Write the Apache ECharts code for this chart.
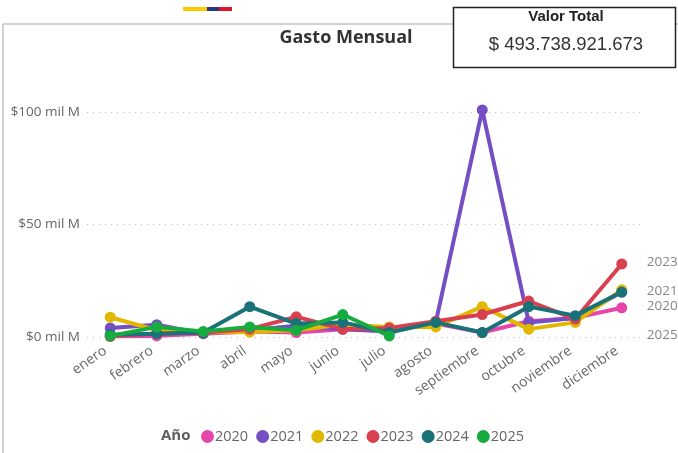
<!DOCTYPE html>
<html>
<head>
<meta charset="utf-8">
<script src="https://cdn.jsdelivr.net/npm/echarts@6/dist/echarts.min.js"></script>
<style>
html,body{margin:0;padding:0;background:#fff;}
#main{width:678px;height:453px;}
</style>
</head>
<body>
<div id="main"></div>
<script>
// valores en miles de millones
var meses = ['enero','febrero','marzo','abril','mayo','junio','julio','agosto','septiembre','octubre','noviembre','diciembre'];
var anios = ['2020','2021','2022','2023','2024','2025'];
var colores = ['#E645AB','#744EC2','#E1B800','#D9404F','#197278','#16AC3F'];

var v2020 = [0.3,0.5,1.5,2.5,2,3.5,3,6,2,7,8.5,13];
var v2021 = [4,5.5,1.5,3,5,3.5,2.5,6.5,101,6.5,8.5,20];
var v2022 = [8.8,3,2,2.2,3,5.5,4.5,4.5,13.5,3.5,6.5,21];
var v2023 = [0.3,1.5,2,3.5,9,3.5,4,7,10,16,8,32.5];
var v2024 = [1,1.5,2,13.5,6,6.5,2,6.5,2,13.5,9.5,20];
var v2025 = [0.5,4.5,2.5,4.5,3,10,0.5,null,null,null,null,null];
var valores = [v2020,v2021,v2022,v2023,v2024,v2025];

// etiquetas del lado derecho
var etiquetasFin = ['2023','2021','2020','2025'];
var etiquetasPos = [33.3,20.4,13.8,0.9];

var myChart = echarts.init(document.getElementById('main'));

var series = anios.map(function (a, i) {
    return {
        name: a,
        type: 'line',
        data: valores[i],
        symbol: 'circle',
        symbolSize: 11,
        showAllSymbol: true,
        connectNulls: false,
        lineStyle: {width: 4, color: colores[i]},
        itemStyle: {color: colores[i]},
        z: 2 + i
    };
});

series.push({
    name: 'etiquetas',
    type: 'scatter',
    symbolSize: 0,
    silent: true,
    data: etiquetasPos.map(function (v) { return ['diciembre', v]; }),
    label: {
        show: true,
        position: 'right',
        distance: 25,
        color: '#666',
        fontSize: 13.5,
        fontFamily: 'Open Sans',
        formatter: function (p) { return etiquetasFin[p.dataIndex]; }
    }
});

var option = {
    animation: false,
    backgroundColor: '#fff',
    title: [
        {
            text: 'Gasto Mensual',
            left: 341, top: 24, textAlign: 'center',
            textStyle: {fontSize: 18, fontWeight: 'bold', color: '#333', fontFamily: 'Open Sans'}
        },
        {
            text: 'Año',
            left: 156, top: 423,
            textStyle: {fontSize: 15, fontWeight: 'bold', color: '#605E5C', fontFamily: 'Open Sans'}
        }
    ],
    legend: {
        data: anios,
        left: 196, top: 424,
        icon: 'circle',
        itemWidth: 13, itemHeight: 13,
        itemGap: 8,
        textStyle: {fontSize: 14.5, color: '#666', padding: [0,0,0,-4], fontFamily: 'Open Sans'}
    },
    grid: {left: 87, right: 33, top: 56, bottom: 116},
    xAxis: {
        type: 'category',
        data: meses,
        axisLine: {show: false},
        axisTick: {show: false},
        axisLabel: {
            rotate: 35,
            interval: 0,
            margin: 9,
            fontSize: 14,
            color: '#666',
            padding: [0, 6, 0, 0],
            fontFamily: 'Open Sans'
        }
    },
    yAxis: {
        type: 'value',
        min: 0,
        max: 125,
        interval: 50,
        axisLine: {show: false},
        axisTick: {show: false},
        axisLabel: {
            showMaxLabel: false,
            margin: 7,
            fontSize: 13.5,
            color: '#666',
            fontFamily: 'Open Sans',
            formatter: function (v) { return '$' + v + ' mil M'; }
        },
        splitLine: {
            showMaxLine: false,
            lineStyle: {type: [1, 5], color: '#bbb', width: 1}
        }
    },
    graphic: [
        {type: 'line', shape: {x1: 3, y1: 24, x2: 678, y2: 24}, style: {stroke: '#d2d2d2', lineWidth: 2}},
        {type: 'line', shape: {x1: 3, y1: 24, x2: 3, y2: 453}, style: {stroke: '#d2d2d2', lineWidth: 2}},
        {type: 'rect', shape: {x: 183, y: 7, width: 24, height: 4}, style: {fill: '#FFC800'}},
        {type: 'rect', shape: {x: 207, y: 7, width: 12, height: 4}, style: {fill: '#27397F'}},
        {type: 'rect', shape: {x: 219, y: 7, width: 13, height: 4}, style: {fill: '#E0142E'}},
        {type: 'rect', z: 10, shape: {x: 453.5, y: 7.5, width: 222, height: 60}, style: {fill: '#fff', stroke: '#222', lineWidth: 1.5}},
        {type: 'text', z: 11, style: {x: 566, y: 17, text: 'Valor Total', align: 'center', verticalAlign: 'middle', font: 'bold 15px "Liberation Sans"', fill: '#222'}},
        {type: 'text', z: 11, style: {x: 566, y: 45, text: '$ 493.738.921.673', align: 'center', verticalAlign: 'middle', font: '18.5px "Liberation Sans"', fill: '#333'}}
    ],
    series: series
};
myChart.setOption(option);
</script>
</body>
</html>
